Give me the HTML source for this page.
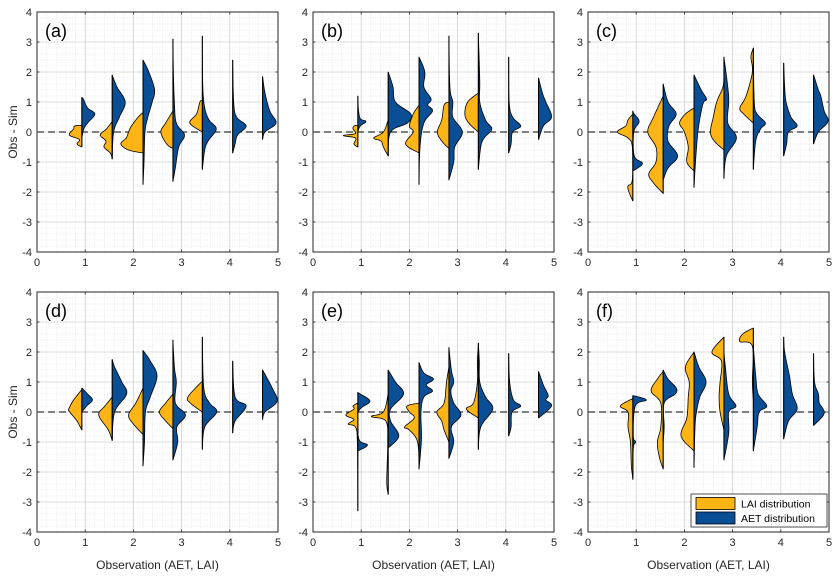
<!DOCTYPE html>
<html><head><meta charset="utf-8"><style>
html,body{margin:0;padding:0;background:#fff;}
svg{display:block;font-family:"Liberation Sans",Arial,sans-serif;}
</style></head><body>
<svg id="fig" width="840" height="577" viewBox="0 0 840 577" xmlns="http://www.w3.org/2000/svg"></svg>
<script>
// group centre positions (data units)
const groups = [0.93, 1.56, 2.2, 2.82, 3.43, 4.06, 4.68];
const xTicks = [0,1,2,3,4,5];
const yTicks = [-4,-3,-2,-1,0,1,2,3,4];
const panelLabels = ["(a)","(b)","(c)","(d)","(e)","(f)"];
// half-violin profiles: [y, half-width] knots
const lai_a = [
 [[-0.5,0],[-0.4,0.1],[-0.25,0.05],[-0.1,0.26],[0.1,0.17],[0.2,0.15],[0.22,0]],
 [[-0.9,0],[-0.7,0.04],[-0.5,0.17],[-0.3,0.13],[-0.1,0.25],[0.1,0.12],[0.35,0]],
 [[-0.7,0],[-0.6,0.3],[-0.4,0.46],[-0.2,0.35],[0,0.3],[0.2,0.24],[0.5,0.1],[0.65,0]],
 [[-0.55,0],[-0.4,0.13],[0,0.25],[0.3,0.15],[0.7,0]],
 [[0,0],[0.3,0.26],[0.6,0.12],[1.0,0.05],[1.05,0]],
 null, null];
const aet_a = [
 [[-0.2,0],[0.1,0.04],[0.3,0.12],[0.6,0.27],[0.8,0.12],[1.1,0.03],[1.15,0]],
 [[-0.9,0],[0,0.03],[0.5,0.15],[1.0,0.27],[1.5,0.1],[1.9,0]],
 [[-1.75,0],[-1,0.02],[0,0.04],[0.5,0.1],[1.0,0.19],[1.4,0.24],[2.0,0.12],[2.4,0]],
 [[-1.65,0],[-1.2,0.05],[-0.5,0.12],[-0.1,0.24],[0.3,0.07],[1,0.03],[2,0.01],[3.1,0]],
 [[-1.25,0],[-0.6,0.05],[-0.3,0.12],[0.1,0.29],[0.4,0.14],[0.8,0.05],[1.5,0.01],[3.2,0]],
 [[-0.7,0],[-0.4,0.05],[-0.1,0.1],[0.2,0.28],[0.5,0.08],[1,0.02],[2.4,0]],
 [[-0.25,0],[0,0.05],[0.3,0.28],[0.7,0.15],[1.3,0.05],[1.85,0]]];
const lai_b = [
 [[-0.5,0],[-0.4,0.08],[-0.2,0.05],[-0.12,0.3],[-0.05,0.05],[0.1,0.1],[0.2,0.08],[0.22,0]],
 [[-0.8,0],[-0.5,0.1],[-0.3,0.15],[-0.2,0.3],[0,0.1],[0.4,0]],
 [[-0.7,0],[-0.4,0.28],[0,0.12],[0.2,0.2],[0.6,0.12],[0.9,0]],
 [[-0.55,0],[-0.3,0.15],[0,0.24],[0.4,0.15],[0.9,0.1],[1.0,0]],
 [[0,0],[0.3,0.2],[0.6,0.28],[1.0,0.22],[1.3,0]],
 null, null];
const aet_b = [
 [[0,0],[0.2,0.05],[0.35,0.17],[0.45,0.05],[0.8,0.01],[1.2,0]],
 [[-0.8,0],[0,0.05],[0.3,0.4],[0.6,0.47],[1.0,0.15],[1.5,0.1],[2.0,0]],
 [[-1.75,0],[-0.5,0.02],[0.3,0.1],[0.7,0.28],[0.9,0.18],[1.1,0.25],[1.5,0.1],[2.0,0.12],[2.5,0]],
 [[-1.6,0],[-1,0.1],[-0.5,0.12],[0,0.28],[0.5,0.08],[1,0.08],[1.5,0.02],[3.2,0]],
 [[-1.25,0],[-0.5,0.05],[-0.2,0.12],[0.1,0.28],[0.4,0.15],[1,0.03],[1.7,0.03],[3.3,0]],
 [[-0.7,0],[-0.4,0.05],[0,0.08],[0.2,0.25],[0.5,0.08],[1,0.01],[2.5,0]],
 [[-0.25,0],[0.2,0.1],[0.5,0.27],[1.0,0.15],[1.3,0.08],[1.8,0]]];
const lai_c = [
 [[-2.3,0],[-2.0,0.08],[-1.8,0.1],[-1.6,0.01],[-0.5,0.01],[-0.2,0.1],[0,0.32],[0.2,0.15],[0.4,0.1],[0.6,0]],
 [[-2.05,0],[-1.7,0.2],[-1.4,0.3],[-1,0.15],[-0.5,0.15],[0,0.32],[0.5,0.2],[1.2,0]],
 [[-1.3,0],[-1,0.15],[-0.5,0.12],[0,0.2],[0.3,0.3],[0.6,0.18],[0.8,0]],
 [[-0.6,0],[-0.3,0.2],[0,0.28],[0.5,0.22],[1.0,0.15],[1.5,0.02],[1.85,0]],
 [[0.3,0],[0.6,0.2],[0.8,0.28],[1.2,0.15],[2.0,0.02],[2.5,0.05],[2.8,0]],
 null, null];
const aet_c = [
 [[-1.3,0],[-1.05,0.2],[-0.8,0.03],[0,0.02],[0.35,0.13],[0.6,0.03],[0.7,0]],
 [[-1.6,0],[-1.2,0.1],[-0.8,0.3],[-0.3,0.1],[0.2,0.12],[0.6,0.27],[1.0,0.1],[1.6,0]],
 [[-1.85,0],[-1,0.03],[0,0.08],[0.7,0.15],[1.0,0.2],[1.1,0.26],[1.4,0.15],[1.9,0]],
 [[-1.55,0],[-0.8,0.05],[-0.2,0.26],[0.3,0.08],[1.0,0.1],[1.5,0.08],[2.5,0]],
 [[-1.25,0],[-0.3,0.05],[0.1,0.15],[0.3,0.25],[0.6,0.08],[1,0.02],[2.8,0]],
 [[-0.8,0],[-0.4,0.06],[0,0.1],[0.2,0.28],[0.5,0.15],[1,0.05],[1.5,0.02],[2.3,0]],
 [[-0.4,0],[0,0.1],[0.35,0.3],[0.7,0.22],[1.2,0.15],[1.4,0.1],[1.9,0]]];
const lai_d = [
 [[-0.6,0],[-0.3,0.1],[0,0.25],[0.1,0.27],[0.4,0.17],[0.75,0]],
 [[-0.95,0],[-0.6,0.08],[-0.1,0.28],[0.2,0.15],[0.5,0]],
 [[-0.75,0],[-0.4,0.2],[-0.1,0.3],[0.3,0.15],[0.8,0]],
 [[-0.55,0],[-0.3,0.15],[0,0.28],[0.3,0.15],[0.6,0]],
 [[0,0],[0.3,0.25],[0.5,0.3],[0.95,0.05],[1.0,0]],
 null, null];
const aet_d = [
 [[0,0],[0.2,0.1],[0.4,0.22],[0.6,0.12],[0.8,0]],
 [[-0.95,0],[0,0.05],[0.6,0.3],[1.0,0.2],[1.5,0.05],[1.75,0]],
 [[-1.8,0],[-1,0.03],[0,0.05],[0.5,0.15],[1.2,0.29],[1.7,0.15],[2.05,0]],
 [[-1.6,0],[-1.0,0.1],[-0.5,0.08],[-0.1,0.26],[0.3,0.05],[1.0,0.07],[1.5,0.03],[2.4,0]],
 [[-1.25,0],[-0.5,0.05],[0,0.3],[0.3,0.15],[0.8,0.03],[2.5,0]],
 [[-0.7,0],[-0.3,0.05],[0.2,0.28],[0.5,0.05],[1.7,0]],
 [[-0.25,0],[0,0.05],[0.35,0.3],[0.8,0.2],[1.4,0]]];
const lai_e = [
 [[-3.3,0],[-1,0.01],[-0.5,0.05],[-0.4,0.2],[-0.25,0.08],[-0.1,0.25],[0.1,0.08],[0.2,0.1],[0.3,0]],
 [[-2.75,0],[-2.3,0.03],[-1,0.01],[-0.3,0.05],[-0.15,0.35],[0,0.1],[0.6,0]],
 [[-1.9,0],[-1,0.03],[-0.6,0.2],[-0.5,0.3],[-0.2,0.1],[0,0.2],[0.2,0.25],[0.3,0]],
 [[-1.0,0],[-0.6,0.1],[-0.3,0.15],[0,0.25],[0.3,0.1],[1.0,0.05],[1.5,0]],
 [[-0.2,0],[0.1,0.25],[0.3,0.1],[1.0,0.02],[1.7,0.02],[2.2,0]],
 null, null];
const aet_e = [
 [[-1.3,0],[-1.1,0.2],[-0.9,0.02],[0,0.01],[0.35,0.25],[0.6,0.05],[0.65,0]],
 [[-1.2,0],[-0.8,0.22],[-0.3,0.05],[0.1,0.05],[0.6,0.32],[1.0,0.15],[1.4,0]],
 [[-1.9,0],[-0.9,0.05],[0,0.04],[0.5,0.1],[0.7,0.28],[0.9,0.15],[1.1,0.3],[1.3,0.1],[1.65,0]],
 [[-1.55,0],[-1,0.1],[-0.5,0.05],[-0.1,0.25],[0.3,0.1],[0.7,0.04],[1.0,0.1],[1.4,0.05],[2.15,0]],
 [[-1.25,0],[-0.5,0.05],[0.1,0.3],[0.5,0.15],[1.0,0.03],[1.7,0.02],[2.3,0]],
 [[-0.8,0],[-0.5,0.05],[0,0.07],[0.2,0.25],[0.4,0.1],[1,0.02],[1.95,0]],
 [[-0.2,0],[0.2,0.27],[0.4,0.15],[0.55,0.2],[0.9,0.1],[1.35,0]]];
const lai_f = [
 [[-2.2,0],[-1.8,0.03],[-1.0,0.05],[-0.5,0.1],[0,0.1],[0.2,0.26],[0.45,0]],
 [[-1.9,0],[-1.5,0.08],[-1,0.12],[-0.5,0.05],[0.3,0.05],[0.7,0.25],[1.1,0.12],[1.35,0]],
 [[-1.3,0],[-0.8,0.27],[-0.2,0.15],[0.5,0.12],[1.0,0.1],[1.5,0.18],[2.0,0]],
 [[-0.6,0],[0,0.08],[0.5,0.1],[1.0,0.08],[1.7,0.05],[2.0,0.25],[2.5,0]],
 [[0.4,0],[1.0,0.02],[2.2,0.02],[2.35,0.28],[2.6,0.22],[2.8,0]],
 null, null];
const aet_f = [
 [[-2.25,0],[-1.2,0.01],[-1.0,0.06],[-0.8,0.01],[0.2,0.05],[0.4,0.28],[0.55,0]],
 [[-1.0,0],[-0.5,0.02],[0.3,0.02],[0.6,0.25],[0.8,0.27],[1.1,0.1],[1.4,0]],
 [[-1.85,0],[-0.5,0.02],[0,0.05],[0.5,0.12],[1.0,0.25],[1.5,0.1],[2.0,0]],
 [[-1.6,0],[-0.7,0.1],[0,0.1],[0.2,0.25],[0.6,0.1],[1.5,0.03],[2.0,0]],
 [[-1.3,0],[-0.5,0.08],[0,0.12],[0.2,0.28],[0.6,0.1],[1.2,0.05],[2.2,0]],
 [[-0.9,0],[-0.3,0.1],[0.1,0.28],[0.6,0.18],[1.2,0.12],[2.0,0.02],[2.5,0]],
 [[-0.45,0],[-0.05,0.22],[0.3,0.12],[0.6,0.1],[1.0,0.02],[1.95,0]]];

const laiSets = [lai_a, lai_b, lai_c, lai_d, lai_e, lai_f];
const aetSets = [aet_a, aet_b, aet_c, aet_d, aet_e, aet_f];
const ORANGE = "#FDB515", BLUE = "#0A4F96";
const NS = "http://www.w3.org/2000/svg";
const svg = document.getElementById("fig");
function mk(tag, attrs, parent) {
  const e = document.createElementNS(NS, tag);
  for (const k in attrs) e.setAttribute(k, attrs[k]);
  (parent || svg).appendChild(e);
  return e;
}
// Catmull-Rom smoothing of a profile (width clamped >= 0)
function smooth(prof) {
  const out = [];
  const n = prof.length;
  for (let i = 0; i < n - 1; i++) {
    const p0 = prof[Math.max(0, i-1)], p1 = prof[i], p2 = prof[i+1], p3 = prof[Math.min(n-1, i+2)];
    for (let s = 0; s < 8; s++) {
      const t = s / 8, t2 = t*t, t3 = t2*t;
      const f = (a,b,c,d) => 0.5*((2*b)+(-a+c)*t+(2*a-5*b+4*c-d)*t2+(-a+3*b-3*c+d)*t3);
      let y = f(p0[0],p1[0],p2[0],p3[0]);
      y = Math.min(Math.max(y, Math.min(p1[0],p2[0])), Math.max(p1[0],p2[0]));
      const w = Math.max(0, f(p0[1],p1[1],p2[1],p3[1]));
      out.push([y, w]);
    }
  }
  out.push(prof[n-1]);
  return out;
}
const boxes = [
 {x:37, y:12}, {x:313, y:12}, {x:588, y:12},
 {x:37, y:292}, {x:313, y:292}, {x:588, y:292}];
const W = 241, H = 240;

boxes.forEach((b, pi) => {
  const g = mk("g", {});
  
  
  const sx = v => b.x + v / 5 * W;
  const sy = v => b.y + (4 - v) / 8 * H;
  for (let i = 1; i < 25; i++) {
    if (i % 5 === 0) continue;
    const v = i * 0.2;
    mk("line", {x1:sx(v), x2:sx(v), y1:b.y, y2:b.y+H, stroke:"#d8d8d8", "stroke-width":0.5, "stroke-dasharray":"1,1.5"}, g);
  }
  for (let i = 1; i < 40; i++) {
    if (i % 5 === 0) continue;
    const v = -4 + i * 0.2;
    mk("line", {x1:b.x, x2:b.x+W, y1:sy(v), y2:sy(v), stroke:"#d8d8d8", "stroke-width":0.5, "stroke-dasharray":"1,1.5"}, g);
  }
  xTicks.forEach(t => { if (t>0 && t<5) mk("line", {x1:sx(t), x2:sx(t), y1:b.y, y2:b.y+H, stroke:"#d0d0d0", "stroke-width":0.8}, g); });
  yTicks.forEach(t => { if (t>-4 && t<4) mk("line", {x1:b.x, x2:b.x+W, y1:sy(t), y2:sy(t), stroke:"#d0d0d0", "stroke-width":0.8}, g); });
  const zl = mk("line", {x1:b.x, x2:b.x+W, y1:sy(0), y2:sy(0), stroke:"#000", "stroke-width":1.1, "stroke-dasharray":"7,4"}, g);
  
  
  groups.forEach((gx, gi) => {
    const lai = laiSets[pi][gi], aet = aetSets[pi][gi];
    let ymin = Infinity, ymax = -Infinity;
    [[lai, -1, ORANGE, 'lai'], [aet, 1, BLUE, 'aet']].forEach(([prof, dir, col, nm]) => {
      if (!prof) return;
      let d = "";
      smooth(prof).forEach((p, k) => {
        ymin = Math.min(ymin, p[0]); ymax = Math.max(ymax, p[0]);
        d += (k ? "L" : "M") + (sx(gx + dir * p[1])).toFixed(2) + "," + sy(p[0]).toFixed(2);
      });
      d += "Z";
      const path = mk("path", {d:d, fill:col, stroke:"#000", "stroke-width":0.8, "stroke-linejoin":"round"}, g);
      
      
    });
    const cl = mk("line", {x1:sx(gx), x2:sx(gx), y1:sy(ymin), y2:sy(ymax), stroke:"#000", "stroke-width":1}, g);
    
    
  });
  mk("rect", {x:b.x, y:b.y, width:W, height:H, fill:"none", stroke:"#262626", "stroke-width":1}, g);
  xTicks.forEach(t => {
    mk("line", {x1:sx(t), x2:sx(t), y1:b.y+H, y2:b.y+H-2.5, stroke:"#262626", "stroke-width":0.8}, g);
    mk("line", {x1:sx(t), x2:sx(t), y1:b.y, y2:b.y+2.5, stroke:"#262626", "stroke-width":0.8}, g);
    const tx = mk("text", {x:sx(t), y:b.y+H+14, "text-anchor":"middle", "font-size":11, fill:"#262626"}, g);
    tx.textContent = t;
    
    
  });
  yTicks.forEach(t => {
    mk("line", {x1:b.x, x2:b.x+2.5, y1:sy(t), y2:sy(t), stroke:"#262626", "stroke-width":0.8}, g);
    mk("line", {x1:b.x+W, x2:b.x+W-2.5, y1:sy(t), y2:sy(t), stroke:"#262626", "stroke-width":0.8}, g);
    const ty = mk("text", {x:b.x-5, y:sy(t)+4, "text-anchor":"end", "font-size":11, fill:"#262626"}, g);
    ty.textContent = t;
    
    
  });
  const pl = mk("text", {x:b.x+8, y:b.y+25, "font-size":18, fill:"#000"}, g);
  pl.textContent = panelLabels[pi];
  
  
  if (pi % 3 === 0) {
    const yl = mk("text", {x:0, y:0, "text-anchor":"middle", "font-size":12, fill:"#262626", transform:"translate(17," + (b.y + H/2) + ") rotate(-90)"}, g);
    yl.textContent = "Obs - Sim";
    
    
  }
  if (pi >= 3) {
    const xl = mk("text", {x:b.x+W/2, y:569, "text-anchor":"middle", "font-size":12, fill:"#262626"}, g);
    xl.textContent = "Observation (AET, LAI)";
    
    
  }
});
const lg = mk("g", {});


mk("rect", {x:691, y:494, width:136, height:33, fill:"#fff", stroke:"#262626", "stroke-width":0.8}, lg);
const s1 = mk("rect", {x:696, y:497.5, width:39, height:12, fill:ORANGE, stroke:"#000", "stroke-width":0.8}, lg);


const s2 = mk("rect", {x:696, y:512, width:39, height:12, fill:BLUE, stroke:"#000", "stroke-width":0.8}, lg);


const t1 = mk("text", {x:741, y:507.5, "font-size":10.5, fill:"#000"}, lg);
t1.textContent = "LAI distribution";


const t2 = mk("text", {x:741, y:522, "font-size":10.5, fill:"#000"}, lg);
t2.textContent = "AET distribution";


</script>
</body></html>
